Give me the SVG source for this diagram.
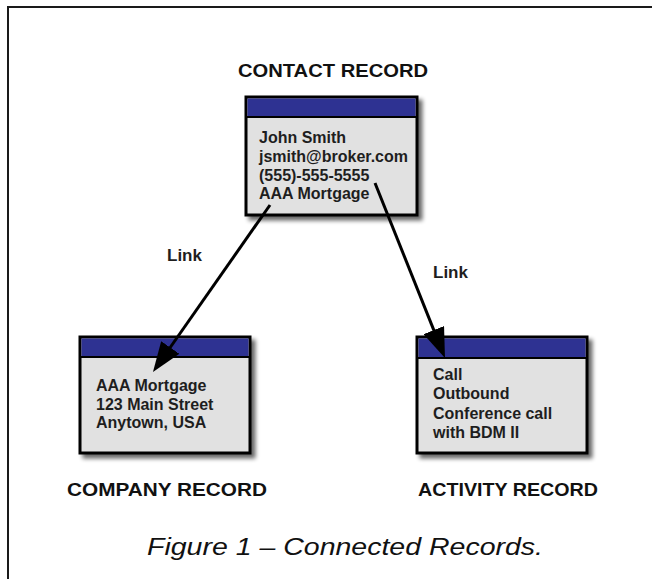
<svg xmlns="http://www.w3.org/2000/svg" width="652" height="579" viewBox="0 0 652 579">
<style>
.frame{fill:#ffffff;stroke:#1a1a1a;stroke-width:2}
.body{fill:#e1e1e1;stroke:#000;stroke-width:3}
.head{fill:#2f3192}
.sep{stroke:#000;stroke-width:2}
.txt{font-family:"Liberation Sans",Arial,sans-serif;font-weight:bold;font-size:16px;fill:#1e1e1e}
.title{font-family:"Liberation Sans",Arial,sans-serif;font-weight:bold;font-size:18px;fill:#111}
.link{font-family:"Liberation Sans",Arial,sans-serif;font-weight:bold;font-size:17px;fill:#1e1e1e}
.cap{font-family:"Liberation Sans",Arial,sans-serif;font-style:italic;font-size:23px;fill:#111}
.conn{stroke:#000;stroke-width:3;fill:none;marker-end:url(#arrow)}
</style>
<defs>
<filter id="shadow" x="-10%" y="-10%" width="130%" height="130%">
<feGaussianBlur in="SourceAlpha" stdDeviation="2"/>
<feOffset dx="4" dy="4" result="b"/>
<feComponentTransfer><feFuncA type="linear" slope="0.6"/></feComponentTransfer>
<feMerge><feMergeNode/><feMergeNode in="SourceGraphic"/></feMerge>
</filter>
<marker id="arrow" viewBox="0 0 30 22" refX="8" refY="11" markerWidth="30" markerHeight="22" markerUnits="userSpaceOnUse" orient="auto">
<path d="M0,0 L30,11 L0,22 z" fill="#000"/>
</marker>
</defs>
<rect class="frame" x="8" y="7" width="700" height="700"/>

<g id="contact">
<text class="title" x="238" y="77" textLength="190" lengthAdjust="spacingAndGlyphs">CONTACT RECORD</text>
<g filter="url(#shadow)">
<rect class="body" x="246" y="97" width="171" height="118"/>
<rect class="head" x="247.5" y="98.5" width="168" height="18.5"/>
<line class="sep" x1="246" y1="117" x2="417" y2="117"/>
</g>
<text class="txt" x="259" y="143">John Smith</text>
<text class="txt" x="259" y="162">jsmith@broker.com</text>
<text class="txt" x="259" y="180.5">(555)-555-5555</text>
<text class="txt" x="259" y="199">AAA Mortgage</text>
</g>

<g id="company">
<g filter="url(#shadow)">
<rect class="body" x="80" y="337" width="170" height="116"/>
<rect class="head" x="81.5" y="338.5" width="167" height="18.5"/>
<line class="sep" x1="80" y1="357" x2="250" y2="357"/>
</g>
<text class="txt" x="96" y="391">AAA Mortgage</text>
<text class="txt" x="96" y="409.5">123 Main Street</text>
<text class="txt" x="96" y="428">Anytown, USA</text>
<text class="title" x="67" y="496" textLength="200" lengthAdjust="spacingAndGlyphs">COMPANY RECORD</text>
</g>

<g id="activity">
<g filter="url(#shadow)">
<rect class="body" x="417" y="337" width="170" height="116"/>
<rect class="head" x="418.5" y="338.5" width="167" height="19"/>
<line class="sep" x1="417" y1="358" x2="587" y2="358"/>
</g>
<text class="txt" x="433" y="380">Call</text>
<text class="txt" x="433" y="399">Outbound</text>
<text class="txt" x="433" y="419">Conference call</text>
<text class="txt" x="433" y="438">with BDM II</text>
<text class="title" x="418" y="496" textLength="180" lengthAdjust="spacingAndGlyphs">ACTIVITY RECORD</text>
</g>

<g id="connectors">
<line class="conn" x1="270" y1="205" x2="165.6" y2="354"/>
<line class="conn" x1="375" y1="183" x2="436.8" y2="337.6"/>
<text class="link" x="167" y="261">Link</text>
<text class="link" x="433" y="278">Link</text>
</g>

<text id="caption" class="cap" x="147" y="555" textLength="396" lengthAdjust="spacingAndGlyphs">Figure 1 – Connected Records.</text>
</svg>
